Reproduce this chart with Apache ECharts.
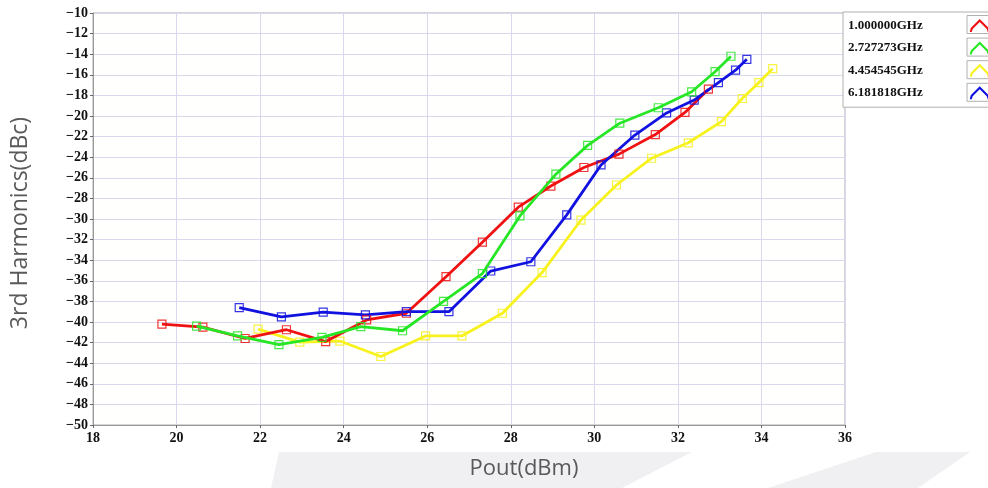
<!DOCTYPE html>
<html>
<head>
<meta charset="utf-8">
<script src="https://cdn.jsdelivr.net/npm/echarts@6/dist/echarts.min.js"></script>
<style>
  html, body { margin: 0; padding: 0; background: #fff; }
  #main { width: 988px; height: 488px; }
</style>
</head>
<body>
<div id="main"></div>
<script>
// legend names / colours
var seriesNames = ['1.000000GHz', '2.727273GHz', '4.454545GHz', '6.181818GHz'];
var seriesColors = ['#f01212', '#26e626', '#f7f21e', '#1212e0'];

// Pout (dBm) values, one list per curve
var pout1 = [19.65, 20.63, 21.64, 22.63, 23.57, 24.55, 25.5, 26.45, 27.32, 28.18, 28.96, 29.75, 30.59, 31.46, 32.17, 32.73];
var pout2 = [20.48, 21.46, 22.45, 23.48, 24.41, 25.41, 26.39, 27.32, 28.22, 29.08, 29.84, 30.61, 31.53, 32.33, 32.89, 33.27];
var pout3 = [21.95, 22.95, 23.91, 24.89, 25.96, 26.83, 27.8, 28.75, 29.68, 30.53, 31.37, 32.25, 33.04, 33.54, 33.94, 34.27];
var pout4 = [21.5, 22.51, 23.51, 24.52, 25.5, 26.52, 27.52, 28.48, 29.34, 30.16, 30.97, 31.73, 32.39, 32.97, 33.38, 33.65];

// 3rd harmonics (dBc)
var h3_1 = [-40.2, -40.5, -41.6, -40.75, -41.9, -39.8, -39.15, -35.6, -32.25, -28.85, -26.8, -25.0, -23.7, -21.8, -19.65, -17.4];
var h3_2 = [-40.4, -41.35, -42.2, -41.5, -40.45, -40.85, -38.0, -35.3, -29.7, -25.65, -22.85, -20.7, -19.2, -17.65, -15.7, -14.2];
var h3_3 = [-40.7, -41.95, -41.85, -43.35, -41.35, -41.35, -39.15, -35.2, -30.1, -26.7, -24.1, -22.6, -20.55, -18.3, -16.75, -15.4];
var h3_4 = [-38.6, -39.5, -39.05, -39.3, -39.0, -39.0, -35.05, -34.15, -29.6, -24.75, -21.85, -19.7, -18.45, -16.75, -15.55, -14.5];

var xTicks = { min: 18, max: 36, step: 2 };
var yTicks = { min: -50, max: -10, step: 2 };

var poutLists = [pout1, pout2, pout3, pout4];
var harmLists = [h3_1, h3_2, h3_3, h3_4];

var chart = echarts.init(document.getElementById('main'), null, { renderer: 'canvas' });

var labelFont = {
  fontFamily: 'Liberation Serif',
  fontWeight: 'bold',
  fontSize: 14,
  color: '#111'
};

var series = seriesNames.map(function (name, i) {
  return {
    name: name,
    type: 'line',
    data: poutLists[i].map(function (x, k) { return [x, harmLists[i][k]]; }),
    symbol: 'rect',
    symbolSize: 8,
    showAllSymbol: true,
    lineStyle: { color: seriesColors[i], width: 2.8 },
    itemStyle: { color: 'rgba(255,255,255,0)', borderColor: seriesColors[i], borderWidth: 1.2, opacity: 0.85 },
    emphasis: { disabled: true },
    z: [2, 3, 1, 2][i]
  };
});

// legend icon frames
var frames = seriesNames.map(function (n, i) {
  return {
    type: 'rect',
    shape: { x: 967, y: 15.5 + i * 22.6, width: 24, height: 18 },
    style: { fill: 'none', stroke: '#b0b0b0', lineWidth: 1 },
    z: 10
  };
});

chart.setOption({
  animation: false,
  backgroundColor: '#ffffff',
  grid: {
    left: 93, top: 13, right: 143, bottom: 63,
    show: true,
    backgroundColor: '#fffffd',
    borderColor: '#aaaaaa',
    borderWidth: 1
  },
  legend: {
    orient: 'vertical',
    left: 843, top: 12,
    align: 'right',
    itemGap: 9.4,
    itemWidth: 20,
    itemHeight: 14,
    padding: [7, 60, 8, 5],
    borderColor: '#b0b0b0',
    borderWidth: 1,
    backgroundColor: '#ffffff',
    selectedMode: false,
    textStyle: {
      fontFamily: 'Liberation Serif',
      fontWeight: 'bold',
      fontSize: 13,
      color: '#111',
      padding: [0, 42, 0, 0]
    },
    data: seriesNames.map(function (n, i) {
      return {
        name: n,
        icon: 'path://M0,15 L1,11 L10,2 L19,11 L20,15 L18,15 L17,12 L10,5 L3,12 L2,15 Z',
        itemStyle: { color: seriesColors[i], borderWidth: 0, opacity: 1 }
      };
    })
  },
  xAxis: {
    type: 'value',
    min: xTicks.min, max: xTicks.max, interval: xTicks.step,
    name: 'Pout(dBm)',
    nameLocation: 'middle',
    nameGap: 33,
    nameTextStyle: {
      fontFamily: 'Open Sans', fontSize: 22, color: '#595959',
      padding: [0, 0, 0, 110]
    },
    axisLine: { lineStyle: { color: '#999', width: 1 } },
    axisTick: { show: true, length: 3, inside: false, lineStyle: { color: '#666' } },
    axisLabel: Object.assign({ margin: 6 }, labelFont),
    splitLine: { show: true, lineStyle: { color: '#d9d8ee', width: 1 } }
  },
  yAxis: {
    type: 'value',
    min: yTicks.min, max: yTicks.max, interval: yTicks.step,
    name: '3rd Harmonics(dBc)',
    nameLocation: 'middle',
    nameGap: 61,
    nameTextStyle: { fontFamily: 'Open Sans', fontSize: 23, color: '#595959', padding: [0, 8, 0, 0] },
    axisLine: { show: true, lineStyle: { color: '#999', width: 1 } },
    axisTick: { show: true, length: 3, inside: false, lineStyle: { color: '#666' } },
    axisLabel: Object.assign({
      margin: 5,
      formatter: function (v) { return String(v).replace('-', '\u2212'); }
    }, labelFont),
    splitLine: { show: true, lineStyle: { color: '#d9d8ee', width: 1 } }
  },
  graphic: [
    // slide background band
    {
      type: 'polygon', z: -10, silent: true,
      shape: { points: [[279, 452], [988, 452], [988, 488], [271, 488]] },
      style: { fill: '#f0f0f3' }
    },
    {
      type: 'polygon', z: -9, silent: true,
      shape: { points: [[692, 452], [876, 452], [768, 488], [622, 488]] },
      style: { fill: '#ffffff' }
    },
    {
      type: 'polygon', z: -9, silent: true,
      shape: { points: [[970, 452], [988, 452], [988, 488], [918, 488]] },
      style: { fill: '#ffffff' }
    }
  ].concat(frames),
  series: series
});
</script>
</body>
</html>
